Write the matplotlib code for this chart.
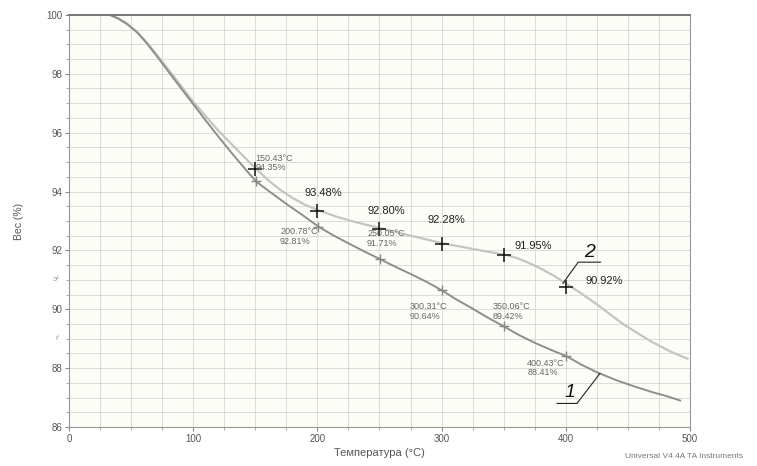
import matplotlib
matplotlib.use("Agg")
import matplotlib.pyplot as plt
from matplotlib.ticker import MultipleLocator

plt.rcParams['font.family'] = ['Liberation Sans', 'DejaVu Sans']

# Curve 1 (lower, darker)
t1 = [33, 40, 47, 55, 62, 70, 80, 90, 100, 110, 120, 130, 140, 150.43, 162, 175, 188, 200.78,
      212, 225, 237, 250.05, 262, 275, 288, 300.31, 312, 325, 337, 350.06, 362, 375, 388, 400.43,
      412, 425, 440, 455, 470, 482, 492]
w1 = [100.0, 99.87, 99.68, 99.4, 99.07, 98.64, 98.08, 97.52, 96.97, 96.42, 95.88, 95.36, 94.86, 94.35, 93.98, 93.58, 93.2, 92.81,
      92.53, 92.24, 91.98, 91.71, 91.46, 91.2, 90.93, 90.64, 90.33, 90.02, 89.72, 89.42, 89.13, 88.86, 88.62, 88.41,
      88.13, 87.86, 87.6, 87.38, 87.18, 87.04, 86.9]

# Curve 2 (upper, lighter)
t2 = [33, 40, 47, 55, 65, 80, 100, 120, 140, 150, 160, 170, 180, 190, 200, 215, 230, 250, 275, 300, 325,
      350, 360, 370, 380, 390, 400, 412, 425, 446, 468, 485, 498]
w2 = [100.0, 99.87, 99.7, 99.42, 98.95, 98.15, 97.05, 96.08, 95.22, 94.8, 94.4, 94.06, 93.78, 93.55, 93.38, 93.15, 92.97, 92.76, 92.5, 92.25, 92.05,
      91.86, 91.75, 91.58, 91.38, 91.15, 90.88, 90.55, 90.17, 89.5, 88.92, 88.55, 88.32]

# Marked points, curve 1
m1_t = [150.43, 200.78, 250.05, 300.31, 350.06, 400.43]
m1_w = [94.35, 92.81, 91.71, 90.64, 89.42, 88.41]
m1_labels = ["150.43°C\n94.35%", "200.78°C\n92.81%", "250.05°C\n91.71%",
             "300.31°C\n90.64%", "350.06°C\n89.42%", "400.43°C\n88.41%"]
m1_label_t = [150, 170, 240, 274, 341, 369]
m1_label_w = [94.97, 92.47, 92.41, 89.93, 89.93, 88.0]

# Marked points, curve 2
m2_t = [150, 200, 250, 300, 350, 400]
m2_w = [94.78, 93.35, 92.73, 92.22, 91.84, 90.75]
m2_labels = ["", "93.48%", "92.80%", "92.28%", "91.95%", "90.92%"]
m2_label_t = [150, 190, 240, 289, 359, 416]
m2_label_w = [95.0, 93.95, 93.33, 93.03, 92.14, 90.95]

x_ticks = [0, 100, 200, 300, 400, 500]
y_ticks = [86, 88, 90, 92, 94, 96, 98, 100]

fig = plt.figure(figsize=(7.57, 4.66), dpi=100)
ax = fig.add_axes([0.0911, 0.0837, 0.8204, 0.8843])
ax.set_facecolor('#fdfdf7')

ax.set_xlim(0, 500)
ax.set_ylim(86, 100)
ax.set_xticks(x_ticks)
ax.set_yticks(y_ticks)
ax.xaxis.set_minor_locator(MultipleLocator(25))
ax.yaxis.set_minor_locator(MultipleLocator(0.5))
ax.grid(True, which='both', color='#d6d6d6', lw=0.6)
ax.set_axisbelow(True)
ax.tick_params(which='major', length=3, color='#888888', labelsize=7, labelcolor='#555555', pad=2)
ax.tick_params(which='minor', length=2, color='#999999')
for s in ax.spines.values():
    s.set_color('#999999')
    s.set_linewidth(0.8)
ax.spines['top'].set_color('#777777')
ax.spines['top'].set_linewidth(1.4)

ax.plot(t2, w2, color='#c4c4c4', lw=1.6, solid_joinstyle='round')
ax.plot(t1, w1, color='#8e8e8e', lw=1.4, solid_joinstyle='round')

ax.plot(m1_t, m1_w, '+', color='#888888', ms=7, mew=1.0)
ax.plot(m2_t, m2_w, '+', color='#111111', ms=10, mew=1.1)

for t, w, s in zip(m1_label_t, m1_label_w, m1_labels):
    ax.text(t, w, s, fontsize=6.5, color='#666666', ha='left', va='center', linespacing=1.1)
for t, w, s in zip(m2_label_t, m2_label_w, m2_labels):
    if s:
        ax.text(t, w, s, fontsize=8, color='#222222', ha='left', va='center')

# faint hand marks near y axis
ax.text(-7, 91, "э¹", fontsize=6, color='#999999', ha='right', va='center')
ax.text(-7, 89, "r'", fontsize=6, color='#999999', ha='right', va='center')

# curve number labels with leader lines
lab2_line_t = [428, 410, 397.7]
lab2_line_w = [91.6, 91.6, 90.88]
lab1_line_t = [393, 409, 427.5]
lab1_line_w = [86.8, 86.8, 87.82]
ax.plot(lab2_line_t, lab2_line_w, color='#222222', lw=0.8)
ax.plot(lab1_line_t, lab1_line_w, color='#222222', lw=0.8)
ax.text(419.5, 91.92, "2", fontsize=14, style='italic', ha='center', va='center', color='#111111')
ax.text(403.4, 87.18, "1", fontsize=14, style='italic', ha='center', va='center', color='#111111')

ax.set_xlabel("Температура (°C)", fontsize=8, color='#555555', labelpad=3)
ax.set_ylabel("Вес (%)", fontsize=7.5, color='#555555', labelpad=16)

fig.text(0.826, 0.013, "Universal V4.4A TA Instruments", fontsize=6, color='#777777', ha='left', va='bottom')

fig.savefig("out.png", dpi=100)
